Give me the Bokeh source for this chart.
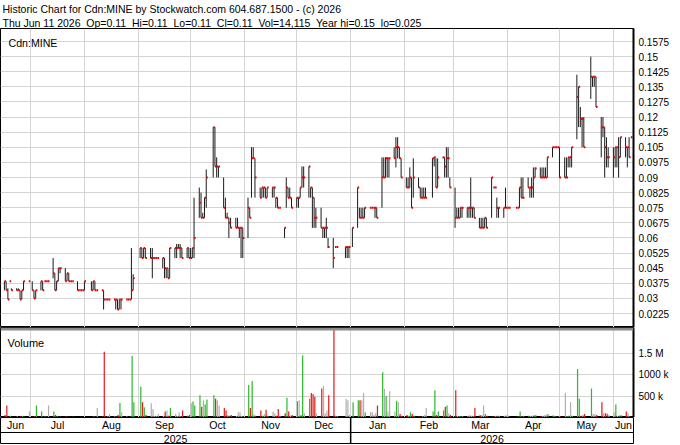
import datetime as dt
import numpy as np
import pandas as pd
from bokeh.plotting import figure
from bokeh.layouts import column
from bokeh.models import Range1d, FixedTicker, Label, BoxAnnotation, ColumnDataSource, Title
from bokeh.embed import file_html
from bokeh.resources import INLINE
from bokeh.core.properties import value

# ---------------- data ----------------
first_day = "2025-06-16"
last_day = "2026-06-11"
holidays = ["2025-07-01", "2025-08-04", "2025-09-01", "2025-10-13", "2025-12-25",
            "2025-12-26", "2026-01-01", "2026-02-16", "2026-04-03", "2026-05-18"]

high = [
    # Jun 2025
    .0385, .0385, .035, .0385, .035, .035, .035, .034, .034, .0385, .0385,
    # Jul
    .0385, .034, .034, .0385, .0385, .0385, .0385, .0385, .05, .0425, .0385, .045, .045, .045, .0425, .0425, .0385, .0385, .0385, .034, .034, .034,
    # Aug
    .0385, .0385, .0385, .0385, .034, .034, .034, .0295, .0295, .0295, .0295, .0295, .0295, .0295, .0295, .0295, .0295, .0295, .055, .042,
    # Sep
    .055, .055, .055, .055, .055, .055, .05, .05, .05, .05, .05, .045, .045, .055, .055, .057, .057, .057, .055, .055, .055,
    # Oct
    .055, .055, .08, .085, .0825, .0725, .08, .094, .115, .115, .1, .0955, .09, .08, .0725, .07, .07, .07, .07, .065, .065, .065,
    # Nov
    .08, .075, .105, .105, .0995, .085, .085, .085, .085, .085, .085, .085, .08, .08, .075, .065, .09, .085, .085, .08,
    # Dec
    .08, .08, .085, .0955, .0955, .0955, .085, .085, .08, .075, .075, .065, .065, .07, .06, .06, .0555, .0555, .0555, .0555, .0555,
    # Jan 2026
    .065, .085, .075, .075, .075, .075, .075, .075, .075, .075, .075, .1, .1, .1, .1, .0995, .105, .11, .11, .105, .0995,
    # Feb
    .09, .09, .095, .09, .0995, .09, .085, .085, .085, .085, .0995, .1, .0995, .0995, .1, .1, .105, .105, .09,
    # Mar
    .085, .075, .075, .075, .075, .075, .075, .09, .075, .075, .07, .07, .07, .07, .07, .09, .085, .085, .08, .075, .075, .085,
    # Apr
    .075, .075, .075, .075, .085, .09, .09, .09, .085, .09, .095, .095, .095, .095, .095, .095, .1, .105, .105, .105, .105,
    # May
    .105, .1, .1, .1, .1, .105, .141, .135, .125, .12, .12, .15, .14, .14, .14, .12, .12, .115, .11, .105,
    # Jun
    .105, .105, .105, .11, .11, .11, .105, .11, .11,
]
low = [
    .034, .034, .0295, .0385, .034, .034, .034, .0295, .0295, .034, .0385,
    .034, .030, .030, .034, .034, .0385, .0385, .0385, .04, .034, .034, .0385, .0425, .0385, .0385, .0385, .0385, .0385, .034, .034, .034, .034,
    .034, .034, .034, .034, .034, .034, .0245, .0295, .0295, .0295, .0295, .0245, .0245, .0245, .0245, .0295, .0295, .0295, .0295, .034,
    .05, .05, .05, .05, .05, .04, .05, .05, .05, .045, .04, .04, .04, .04, .05, .05, .055, .05, .05, .05, .05,
    .05, .05, .05, .07, .07, .07, .07, .075, .09, .0955, .09, .09, .075, .07, .07, .06, .065, .065, .065, .06, .05, .05,
    .06, .07, .08, .0995, .08, .08, .08, .08, .08, .08, .08, .08, .075, .075, .075, .06, .075, .08, .08, .075,
    .075, .075, .08, .085, .085, .08, .08, .065, .065, .065, .065, .06, .06, .06, .055, .045, .0555, .0555, .05, .05, .05,
    .0555, .065, .07, .07, .07, .07, .075, .075, .075, .07, .07, .075, .09, .09, .09, .09, .0995, .095, .0995, .0995, .09,
    .085, .085, .085, .075, .08, .085, .08, .08, .08, .08, .08, .0955, .085, .085, .0995, .09, .09, .09, .085,
    .065, .07, .07, .07, .07, .07, .07, .07, .07, .07, .065, .065, .065, .065, .065, .07, .085, .085, .07, .07, .07, .075,
    .075, .075, .075, .075, .075, .08, .08, .085, .08, .08, .08, .09, .09, .09, .09, .09, .09, .1, .105, .105, .105,
    .09, .09, .09, .095, .095, .095, .109, .115, .115, .105, .105, .129, .135, .135, .125, .1, .11, .09, .095, .095,
    .09, .095, .095, .09, .1, .1, .095, .1, .11,
]
close = [
    .0385, .034, .0295, .0385, .034, .034, .034, .0295, .034, .0385, .0385,
    .034, .030, .034, .0385, .034, .0385, .0385, .0385, .0425, .034, .0385, .045, .045, .0385, .0425, .0385, .0385, .0385, .034, .034, .034, .034,
    .0385, .034, .0385, .034, .034, .034, .0295, .0295, .0295, .0295, .0295, .0295, .0245, .0295, .0295, .0295, .0295, .0295, .034, .04,
    .055, .05, .055, .05, .05, .05, .05, .05, .05, .05, .045, .045, .04, .055, .055, .055, .055, .055, .05, .055, .05,
    .05, .055, .06, .0775, .07, .07, .08, .09, .115, .0955, .0955, .0955, .075, .07, .07, .0675, .065, .065, .065, .065, .065, .06,
    .075, .07, .0995, .0995, .09, .08, .085, .085, .08, .085, .085, .085, .08, .075, .075, .065, .085, .08, .08, .075,
    .08, .08, .085, .09, .09, .0955, .085, .08, .07, .07, .065, .065, .065, .065, .0555, .05, .0555, .0555, .0555, .0555, .0555,
    .065, .085, .07, .07, .07, .075, .075, .075, .075, .075, .07, .09, .09, .0995, .0995, .0995, .0995, .105, .105, .0995, .09,
    .085, .085, .09, .075, .09, .085, .08, .08, .08, .08, .0995, .1, .085, .09, .1, .0955, .0995, .0995, .085,
    .07, .07, .07, .075, .075, .075, .075, .075, .075, .07, .065, .065, .065, .07, .065, .09, .085, .085, .075, .075, .075, .075,
    .075, .075, .075, .075, .085, .08, .08, .085, .085, .085, .09, .0945, .09, .09, .09, .09, .1, .105, .105, .105, .105,
    .09, .09, .09, .1, .1, .105, .13, .135, .119, .119, .105, .14, .14, .14, .125, .115, .115, .105, .1, .1,
    .1, .105, .105, .1, .11, .105, .105, .1, .11,
]
volume_k = [
    60, 280, 20, 40, 10, 30, 10, 30, 40, 20, 140,
    20, 30, 280, 140, 20, 30, 20, 280, 140, 60, 30, 20, 20, 30, 20, 20, 10, 20, 10, 10, 10, 10,
    10, 10, 30, 20, 220, 20, 1530, 20, 30, 80, 30, 20, 60, 340, 120, 30, 10, 20, 1430, 357,
    714, 357, 240, 60, 333, 200, 40, 30, 80, 40, 140, 160, 40, 220, 80, 40, 120, 30, 160, 40, 60,
    333, 370, 280, 516, 250, 400, 300, 420, 516, 437, 400, 280, 220, 160, 60, 40, 60, 40, 120, 120, 40, 30,
    754, 220, 849, 80, 40, 160, 40, 80, 180, 40, 140, 100, 40, 200, 40, 100, 460, 140, 40, 60,
    380, 400, 60, 1440, 100, 437, 571, 540, 480, 100, 675, 730, 100, 160, 516, 2200, 40, 30, 437, 400, 60,
    357, 400, 400, 400, 571, 120, 120, 120, 60, 100, 280, 1050, 660, 500, 140, 610, 140, 390, 357, 80, 40,
    60, 40, 120, 80, 40, 30, 20, 30, 60, 220, 140, 635, 60, 140, 170, 250, 280, 100, 60,
    635, 40, 30, 30, 30, 40, 60, 40, 40, 220, 60, 60, 280, 80, 40, 20, 30, 40, 40, 40, 40, 50,
    50, 20, 20, 20, 140, 30, 30, 40, 40, 40, 50, 60, 30, 40, 50, 70, 80, 50, 30, 20, 20,
    30, 571, 30, 40, 357, 40, 1130, 437, 40, 60, 80, 675, 80, 80, 60, 357, 100, 100, 90, 60,
    120, 300, 40, 40, 60, 140, 100, 30, 14.115,
]

price_ticks = [0.0225, 0.03, 0.0375, 0.045, 0.0525, 0.06, 0.0675, 0.075, 0.0825, 0.09,
               0.0975, 0.105, 0.1125, 0.12, 0.1275, 0.135, 0.1425, 0.15, 0.1575]
price_labels = ["0.0225", "0.03", "0.0375", "0.045", "0.0525", "0.06", "0.0675", "0.075", "0.0825", "0.09",
                "0.0975", "0.105", "0.1125", "0.12", "0.1275", "0.135", "0.1425", "0.15", "0.1575"]
vol_ticks = [500000, 1000000, 1500000]
vol_labels = ["500 k", "1000 k", "1.5 M"]
month_names = ["Jun", "Jul", "Aug", "Sep", "Oct", "Nov", "Dec", "Jan", "Feb", "Mar", "Apr", "May", "Jun"]
year_names = ["2025", "2026"]

title1 = "Historic Chart for Cdn:MINE by Stockwatch.com 604.687.1500 - (c) 2026"
title2_fields = ["Thu Jun 11 2026", "Op=0.11", "Hi=0.11", "Lo=0.11", "Cl=0.11",
                 "Vol=14,115", "Year hi=0.15", "lo=0.025"]
title2 = "\u00a0 ".join(title2_fields)

# ---------------- layout constants ----------------
FONT = "Liberation Sans"
FW = 633          # frame width
RB = 46           # right border (axis area)
ORIGIN = dt.date(2025, 7, 1)
X0, X1 = -17.24, 346.55
PXD = FW / (X1 - X0)

dates = pd.bdate_range(first_day, last_day)
dates = dates[~dates.isin(pd.to_datetime(holidays))]
n = len(dates)
assert n == len(high) == len(low) == len(close) == len(volume_k), (n, len(high), len(low), len(close), len(volume_k))
dd = np.array([(t.date() - ORIGIN).days for t in dates], dtype=float)
vol = np.array(volume_k) * 1000.0

cl = np.array(close)
colors = []
for i in range(n):
    if i == 0 or cl[i] < cl[i - 1]:
        colors.append("#e41a1a")
    elif cl[i] > cl[i - 1]:
        colors.append("#2eb82e")
    else:
        colors.append("#b0b0b0")

# month boundaries (days since origin)
bounds = []
y, m = 2025, 7
while True:
    b = (dt.date(y, m, 1) - ORIGIN).days
    if b > X1:
        break
    bounds.append(b)
    m += 1
    if m == 13:
        y, m = y + 1, 1
edges = [X0] + bounds + [X1]
month_mid = [(edges[i] + edges[i + 1]) / 2 for i in range(len(edges) - 1)]
jan1 = (dt.date(2026, 1, 1) - ORIGIN).days
year_mid = [(X0 + jan1) / 2, (jan1 + X1) / 2]

xr = Range1d(X0, X1)
GRID = "#d4d4d4"

def base(fig):
    fig.min_border_left = 0
    fig.min_border_top = 0
    fig.min_border_bottom = 0
    fig.background_fill_color = "white"
    fig.border_fill_color = "white"
    return fig

def style_axis(a, ticks, labels):
    a.ticker = FixedTicker(ticks=ticks)
    a.major_label_overrides = {t: s for t, s in zip(ticks, labels)}
    a.major_tick_out = 0
    a.major_tick_in = 0
    a.minor_tick_out = 0
    a.minor_tick_in = 0
    a.axis_line_color = "#000"
    a.axis_line_width = 2
    a.major_label_text_font = FONT
    a.major_label_text_font_size = "10px"
    a.major_label_text_color = "#000"
    a.major_label_standoff = 5

# ---------------- price (with the two header lines as titles) ----------------
PH = 299
PXU = (PH - 27) / 0.135
YLO = 0.0225 - 14 / PXU
YHI = 0.1575 + 13 / PXU
p = base(figure(frame_width=FW, frame_height=PH, x_range=xr, y_range=Range1d(YLO, YHI),
                output_backend="svg", toolbar_location=None, x_axis_location=None, y_axis_location="right"))
p.min_border_right = RB
for txt in (title2, title1):
    p.add_layout(Title(text=txt, align="left", offset=2, standoff=0, text_font=FONT,
                       text_font_size="10.5px", text_font_style="normal", text_color="#000",
                       text_line_height=0.95), "above")
p.outline_line_color = "#000"
p.xgrid.ticker = FixedTicker(ticks=bounds)
p.ygrid.ticker = FixedTicker(ticks=price_ticks)
for g in (p.xgrid, p.ygrid):
    g.grid_line_color = GRID
    g.grid_line_width = 1
style_axis(p.yaxis[0], price_ticks, price_labels)

src = ColumnDataSource(dict(x=dd, xr=dd + 0.9, hi=high, lo=low, cl=close))
p.segment(x0="x", y0="lo", x1="x", y1="hi", source=src, line_color="#1a1a1a", line_width=1)
p.segment(x0="x", y0="cl", x1="xr", y1="cl", source=src, line_color="#e00000", line_width=2)
p.add_layout(Label(x=X0 + 8 / PXD, y=YHI - 14.7 / PXU, text="Cdn:MINE", text_baseline="alphabetic",
                   text_font=FONT, text_font_size="10.6px", text_color="#000"))

# ---------------- volume ----------------
VH = 90
VTOP = VH / 43.0 * 1e6
vppu = VH / VTOP
v = base(figure(frame_width=FW, frame_height=VH, x_range=xr, y_range=Range1d(0, VTOP),
                output_backend="svg", toolbar_location=None, x_axis_location=None, y_axis_location="right"))
v.min_border_right = RB
v.outline_line_color = "#000"
v.xgrid.ticker = FixedTicker(ticks=bounds)
v.ygrid.ticker = FixedTicker(ticks=vol_ticks)
for g in (v.xgrid, v.ygrid):
    g.grid_line_color = GRID
    g.grid_line_width = 1
style_axis(v.yaxis[0], vol_ticks, vol_labels)
vsrc = ColumnDataSource(dict(x=dd + 0.4, top=vol, c=colors))
v.vbar(x="x", top="top", width=0.7, source=vsrc, fill_color="c", line_color=None)
v.add_layout(BoxAnnotation(bottom=VTOP - 3 / vppu, fill_color="#8c8c8c", fill_alpha=1.0, line_color=None))
v.add_layout(Label(x=X0 + 7 / PXD, y=VTOP - 15.7 / vppu, text="Volume", text_baseline="alphabetic",
                   text_font=FONT, text_font_size="11px", text_color="#000"))

# ---------------- month / year rows ----------------
BH = 27
bt = base(figure(frame_width=FW, frame_height=BH, x_range=xr, y_range=Range1d(0, BH),
                 output_backend="svg", toolbar_location=None, x_axis_location=None, y_axis_location=None))
bt.min_border_right = RB
bt.grid.visible = False
bt.outline_line_color = "#000"
bt.segment(x0=[X0], x1=[X1], y0=[12], y1=[12], line_color="#000", line_width=1)
bt.segment(x0=[jan1], x1=[jan1], y0=[0], y1=[BH], line_color="#000", line_width=1.5)
bt.text(x=month_mid, y=[19.5] * len(month_mid), text=month_names, text_align="center", text_baseline="middle",
        text_font=value(FONT), text_font_size="10.6px", text_color="#000")
bt.text(x=year_mid, y=[6] * 2, text=year_names, text_align="center", text_baseline="middle",
        text_font=value(FONT), text_font_size="10.6px", text_color="#000")

layout = column(p, v, bt, spacing=0)
open("out.html", "w").write(file_html(layout, INLINE))
